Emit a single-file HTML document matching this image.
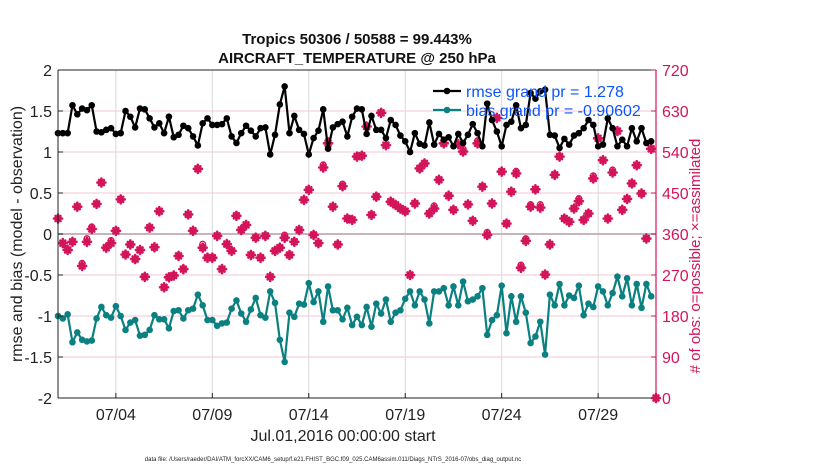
<!DOCTYPE html>
<html><head><meta charset="utf-8"><style>
body{margin:0;background:#fff;width:830px;height:470px;overflow:hidden;font-family:"Liberation Sans",sans-serif}
</style></head><body>
<svg id="chart" width="830" height="470" xmlns="http://www.w3.org/2000/svg" font-family="Liberation Sans, sans-serif"></svg>
<script>
const rmse=[1.23,1.23,1.23,1.57,1.46,1.53,1.51,1.57,1.25,1.24,1.27,1.29,1.22,1.23,1.5,1.43,1.3,1.53,1.52,1.41,1.3,1.35,1.23,1.43,1.18,1.21,1.32,1.29,1.19,1.08,1.35,1.41,
1.33,1.33,1.34,1.41,1.19,1.11,1.23,1.32,1.26,1.19,1.29,1.3,0.97,1.21,1.58,1.80,1.23,1.44,1.27,1.22,0.97,1.17,1.26,1.52,1.04,1.3,1.34,1.37,1.19,1.43,1.53,
1.52,1.22,1.44,1.27,1.27,1.17,1.39,1.33,1.2,1.13,1.0,1.23,1.1,1.08,1.36,1.09,1.22,1.15,1.18,1.07,1.22,1.11,1.21,1.34,1.23,1.07,1.59,1.39,1.25,1.07,1.33,
1.37,1.57,1.29,1.33,1.72,1.65,1.74,1.76,1.21,1.20,1.05,1.16,1.09,1.20,1.23,1.29,1.39,1.33,1.07,1.09,1.41,1.29,1.07,1.15,1.07,1.29,1.13,1.29,1.11,1.13];
const bias=[-1.0,-1.03,-0.98,-1.32,-1.2,-1.29,-1.31,-1.30,-1.03,-0.89,-0.99,-1.02,-0.88,-1.0,-1.17,-1.08,-1.05,-1.24,-1.23,-1.17,-0.99,-1.04,-1.04,-1.15,-0.94,-0.93,-1.03,-0.93,-0.91,-0.74,-0.87,-1.05,
-1.05,-1.12,-1.09,-1.08,-0.91,-0.81,-0.97,-1.07,-0.92,-0.78,-0.99,-1.02,-0.70,-0.84,-1.29,-1.56,-0.96,-1.01,-0.85,-0.86,-0.6,-0.83,-0.70,-1.07,-0.64,-0.93,-0.93,-1.04,-0.90,-1.11,-1.01,
-1.11,-0.89,-1.13,-0.85,-0.97,-0.8,-1.07,-0.96,-0.93,-0.79,-0.70,-0.87,-0.7,-0.8,-1.09,-0.70,-0.70,-0.66,-0.87,-0.64,-0.87,-0.58,-0.82,-0.80,-0.76,-0.66,-1.23,-1.05,-0.99,-0.63,-1.21,
-0.76,-1.07,-0.76,-0.96,-1.33,-1.25,-1.07,-1.47,-0.74,-0.87,-0.61,-0.87,-0.75,-0.78,-0.63,-0.99,-0.85,-0.89,-0.64,-0.70,-0.87,-0.72,-0.52,-0.76,-0.54,-0.87,-0.61,-0.90,-0.61,-0.76];
const assimilated=[394,340,325,343,420,290,343,371,426,473,330,340,367,436,315,337,305,325,266,374,331,410,243,265,269,312,283,403,367,503,330,308,
308,356,283,338,323,400,369,380,314,352,308,356,266,323,330,352,314,343,369,435,457,358,340,506,559,420,337,465,394,391,530,
532,596,402,442,626,555,431,424,416,410,270,427,504,515,405,416,479,559,444,413,557,541,425,389,559,464,358,427,615,497,383,
453,493,286,345,420,458,418,271,337,490,530,394,387,416,432,391,405,482,570,522,394,495,586,413,437,471,511,449,350,547,0];
const possible=[394,340,325,343,420,296,350,376,426,473,330,346,367,436,315,337,305,325,266,374,331,410,243,265,269,312,283,403,367,503,338,308,
308,356,283,338,323,400,369,380,314,352,308,356,266,323,330,358,314,343,369,435,457,358,340,512,565,420,337,470,394,391,530,
532,596,402,442,626,555,431,424,416,410,270,427,504,515,405,422,479,559,444,413,557,547,425,389,565,464,364,427,615,497,383,
453,498,292,350,425,458,425,271,337,490,530,394,387,416,438,391,405,488,570,522,394,501,586,413,437,471,511,449,350,547,0];
const xTickDays=[3,8,13,18,23,28];
const xTickLabels=["07/04","07/09","07/14","07/19","07/24","07/29"];
const yTicks=[2,1.5,1,0.5,0,-0.5,-1,-1.5,-2];
const yTickLabels=["2","1.5","1","0.5","0","-0.5","-1","-1.5","-2"];
const rTicks=[0,90,180,270,360,450,540,630,720];

const svg=document.getElementById('chart');
const NS="http://www.w3.org/2000/svg";
const L=58,R=656,T=70,B=398;
const xDay=d=>L+(R-L)*d/31;
const xIdx=i=>xDay(i*0.25);
const yL=v=>T+(2-v)/4*(B-T);
const yR=v=>B-v/720*(B-T);
const RED="#d4145a",TEAL="#0a8080";
function mk(tag,attrs,parent){const e=document.createElementNS(NS,tag);for(const k in attrs)e.setAttribute(k,attrs[k]);(parent||svg).appendChild(e);return e;}

const grid=mk('g',{});


yTicks.forEach(v=>{if(v!==0&&Math.abs(v)!==2)mk('line',{x1:L,x2:R,y1:yL(v),y2:yL(v),stroke:"#f3c6d4","stroke-width":1},grid);});
xTickDays.forEach(d=>mk('line',{x1:xDay(d),x2:xDay(d),y1:T,y2:B,stroke:"#d8d8d8","stroke-width":1},grid));
mk('line',{x1:L,x2:R,y1:yL(0),y2:yL(0),stroke:"#c8b5bb","stroke-width":2},grid);

const obs=mk('g',{});


assimilated.forEach((v,i)=>{
  const x=xIdx(i);
  const c=mk('circle',{cx:x,cy:yR(possible[i]),r:2.8,fill:"none",stroke:RED,"stroke-width":1.3},obs);
  
  
  const y=yR(v);
  const g=mk('path',{d:`M${x-4},${y}h8M${x},${y-4}v8M${x-2.5},${y-2.5}l5,5M${x-2.5},${y+2.5}l5,-5`,stroke:RED,"stroke-width":2.6,"stroke-linecap":"round"},obs);
  
  
});

function series(arr,color,name){
  const g=mk('g',{});
  
  
  mk('polyline',{points:arr.map((v,i)=>xIdx(i)+","+yL(v)).join(" "),fill:"none",stroke:color,"stroke-width":2.2},g);
  arr.forEach((v,i)=>{const c=mk('circle',{cx:xIdx(i),cy:yL(v),r:3.3,fill:color},g);
    
    });
}
series(bias,TEAL,'bias-series');
series(rmse,"#000",'rmse-series');

const ax=mk('g',{});


mk('line',{x1:L,x2:L,y1:T,y2:B,stroke:"#222","stroke-width":1},ax);
mk('line',{x1:L,x2:R,y1:B,y2:B,stroke:"#222","stroke-width":1},ax);
mk('line',{x1:L,x2:R,y1:T,y2:T,stroke:"#222","stroke-width":1},ax);
mk('line',{x1:R,x2:R,y1:T,y2:B,stroke:RED,"stroke-width":1.2},ax);
yTicks.forEach((v,k)=>{
  mk('line',{x1:L,x2:L+5,y1:yL(v),y2:yL(v),stroke:"#222"},ax);
  const t=mk('text',{x:L-6,y:yL(v)+6,"text-anchor":"end","font-size":16,fill:"#222"},ax);
  t.textContent=yTickLabels[k];
  
  
});
rTicks.forEach(v=>{
  mk('line',{x1:R-5,x2:R,y1:yR(v),y2:yR(v),stroke:RED},ax);
  const t=mk('text',{x:R+6,y:yR(v)+6,"font-size":16,fill:RED},ax);
  t.textContent=v;
  
  
});
xTickDays.forEach((d,k)=>{
  mk('line',{x1:xDay(d),x2:xDay(d),y1:B,y2:B-5,stroke:"#222"},ax);
  const t=mk('text',{x:xDay(d),y:B+22,"text-anchor":"middle","font-size":16,fill:"#222"},ax);
  t.textContent=xTickLabels[k];
  
  
});
</script>
<svg style="position:absolute;left:0;top:0" width="830" height="470" font-family="Liberation Sans, sans-serif">
<text x="357" y="44" text-anchor="middle" font-size="15" font-weight="bold" fill="#111">Tropics 50306 / 50588 = 99.443%</text>
<text x="357" y="63" text-anchor="middle" font-size="15" font-weight="bold" fill="#111">AIRCRAFT_TEMPERATURE @ 250 hPa</text>
<text transform="translate(22,234) rotate(-90)" text-anchor="middle" font-size="16" fill="#222">rmse and bias (model - observation)</text>
<text transform="translate(700,256) rotate(-90)" text-anchor="middle" font-size="15" fill="#d4145a"># of obs: o=possible; ×=assimilated</text>
<text x="343" y="441" text-anchor="middle" font-size="16" fill="#222">Jul.01,2016 00:00:00 start</text>
<text x="333" y="461" text-anchor="middle" font-size="6" fill="#222">data file: /Users/raeder/DAI/ATM_forcXX/CAM6_setup/f.e21.FHIST_BGC.f09_025.CAM6assim.011/Diags_NTrS_2016-07/obs_diag_output.nc</text>
<g>
<g>
<line x1="433" x2="461" y1="91" y2="91" stroke="#000" stroke-width="2.2"/><circle cx="447" cy="91" r="3.3" fill="#000"/>
<text x="466" y="97" font-size="16" fill="#0b55ff">rmse grand pr = 1.278</text></g>
<g>
<line x1="433" x2="461" y1="110" y2="110" stroke="#0a8080" stroke-width="2.2"/><circle cx="447" cy="110" r="3.3" fill="#0a8080"/>
<text x="466" y="116" font-size="16" fill="#0b55ff">bias grand pr = -0.90602</text></g>
</g>
</svg>
</body></html>
